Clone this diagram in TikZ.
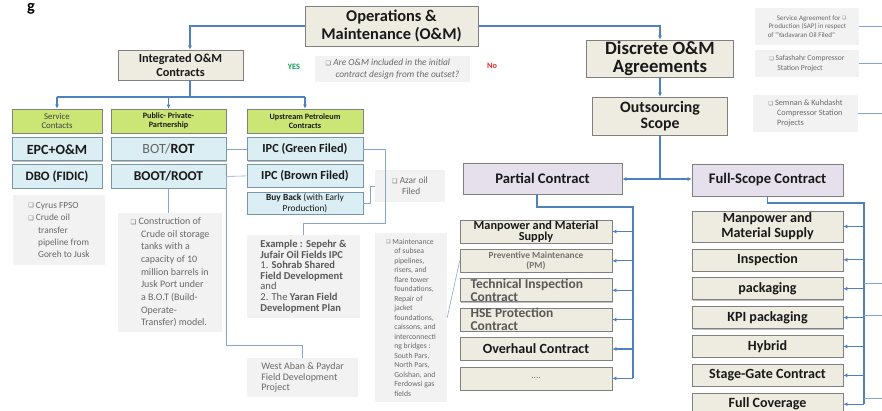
\documentclass[tikz,border=0pt]{standalone}
\usepackage{fontspec}
\usepackage{graphicx}
\setmainfont{Carlito}
\newfontfamily\symfont{DejaVu Sans}
\usetikzlibrary{positioning,shadows,arrows.meta}
\definecolor{linkblue}{RGB}{79,129,189}
\definecolor{paleline}{RGB}{135,165,205}
\definecolor{boxbeige}{RGB}{238,236,225}
\definecolor{boxedge}{RGB}{128,128,128}
\definecolor{limehdr}{RGB}{204,230,118}
\definecolor{palecyan}{RGB}{218,238,243}
\definecolor{cyanedge}{RGB}{120,150,170}
\definecolor{lavender}{RGB}{229,224,236}
\definecolor{notefill}{RGB}{242,242,242}
\definecolor{notetext}{RGB}{105,105,105}
\definecolor{yesgreen}{RGB}{0,160,80}
\definecolor{nored}{RGB}{230,40,40}
\newcommand{\fsz}[2]{\fontsize{#1}{#2}\selectfont}
\newcommand{\sqbul}{\raisebox{0.1ex}{\scalebox{0.65}{\symfont\char"2751}}}
\newcommand{\ind}{\hspace*{1.05em}}
\tikzset{
    boxbase/.style={rectangle, draw=boxedge, line width=0.6pt, align=center, inner sep=0.5pt, text=black!90,
        drop shadow={shadow xshift=0.8pt, shadow yshift=-0.8pt, fill=black, opacity=0.25}},
    mainbox/.style={boxbase, fill=boxbeige, font=\bfseries},
    hdrbox/.style={boxbase, fill=limehdr, minimum height=7.2mm},
    ctbox/.style={boxbase, fill=palecyan, draw=cyanedge, font=\bfseries},
    scopebox/.style={boxbase, fill=lavender, font=\bfseries\fsz{12.5}{13}, minimum height=9.3mm},
    itembox/.style={boxbase, fill=boxbeige, font=\bfseries},
    itemtext/.style={align=left, inner sep=0pt, anchor=west, font=\bfseries\fsz{11.5}{11}, text=black!65},
    note/.style={rectangle, fill=notefill, text=notetext, align=left, inner sep=1pt},
    conn/.style={draw=linkblue, line width=0.9pt},
    trunk/.style={draw=linkblue, line width=1.4pt},
    link/.style={draw=paleline, line width=0.5pt},
    arr/.style={-{Latex[length=3.5pt,width=3.5pt]}}
}

\begin{document}
\begin{tikzpicture}[x=0.3mm, y=-0.3mm]
    \fill[white] (0,0) rectangle (882,410);
    \useasboundingbox (0,0) rectangle (882,410);

    % Title fragment
    \node[font=\bfseries\fsz{14}{14}, anchor=base, inner sep=0pt] (figg) at (31,11) {g};

    % Top level
    \node[mainbox, minimum width=51.9mm, minimum height=12mm, font=\bfseries\fsz{14}{15}] (om) at (391.5,26) {Operations \&\\Maintenance (O\&M)};
    \node[mainbox, minimum width=37.5mm, minimum height=9mm, font=\bfseries\fsz{10.5}{12}] (integ) at (180.5,65) {Integrated O\&M\\Contracts};
    \node[mainbox, minimum width=44.1mm, minimum height=11.1mm, font=\bfseries\fsz{16}{16}] (discrete) at (660,58.5) {Discrete O\&M\\Agreements};
    \node[mainbox, minimum width=40.5mm, minimum height=11.4mm, font=\bfseries\fsz{13.5}{14}] (outs) at (660,116) {Outsourcing\\Scope};

    % Question
    \node[note, minimum width=46.5mm, minimum height=7.8mm, font=\itshape\fsz{8}{9.5}] (quest) at (392.5,69) {\sqbul\ Are O\&M included in the initial\\\ind contract design from the outset?};
    \node[text=yesgreen, font=\bfseries\fsz{7}{8}] (yes) at (294,67) {YES};
    \node[text=nored, font=\bfseries\fsz{7}{8}] (no) at (492,66) {No};

    % Integrated branch
    \node[hdrbox, minimum width=27mm, font=\fsz{7.5}{8.5}, text=black!75] (svc) at (57,121) {Service\\Contacts};
    \node[hdrbox, minimum width=34.5mm, font=\bfseries\fsz{7}{8}] (ppp) at (168.5,121) {Public- Private-\\Partnership};
    \node[hdrbox, minimum width=34.8mm, font=\bfseries\fsz{7}{8}] (ups) at (305,121) {Upstream Petroleum\\Contracts};

    \node[ctbox, minimum width=27mm, minimum height=6.9mm, font=\bfseries\fsz{12}{12}, below=1.2mm of svc] (epc) {EPC+O\&M};
    \node[ctbox, minimum width=27mm, minimum height=7.2mm, font=\bfseries\fsz{11}{11}, below=0.9mm of epc] (dbo) {DBO (FIDIC)};
    \node[ctbox, minimum width=34.5mm, minimum height=6.9mm, font=\bfseries\fsz{12}{12}, below=1.2mm of ppp] (bot) {{\mdseries\color{black!60}BOT/}ROT};
    \node[ctbox, minimum width=34.5mm, minimum height=7.2mm, font=\bfseries\fsz{11.5}{12}, below=0.9mm of bot] (boot) {BOOT/ROOT};
    \node[ctbox, minimum width=34.8mm, minimum height=6.9mm, font=\bfseries\fsz{10.5}{11}, below=1.2mm of ups] (ipcg) {IPC (Green Filed)};
    \node[ctbox, minimum width=34.8mm, minimum height=6.9mm, font=\bfseries\fsz{10.5}{11}, below=0.9mm of ipcg] (ipcb) {IPC (Brown Filed)};
    \node[ctbox, minimum width=34.8mm, minimum height=6.6mm, font=\bfseries\fsz{8}{9}, below=1.2mm of ipcb] (buyb) {Buy Back {\mdseries(with Early}\\{\mdseries Production)}};

    % Notes on the left
    \node[note, minimum width=27.6mm, minimum height=21mm, font=\fsz{8}{10.6}] (cyrus) at (59,230) {\sqbul\ Cyrus FPSO\\\sqbul\ Crude oil\\\ind transfer\\\ind pipeline from\\\ind Goreh to Jusk};
    \node[note, minimum width=31.2mm, minimum height=35.7mm, font=\fsz{8.5}{10.8}] (constr) at (170,272.5) {\sqbul\ Construction of\\\ind Crude oil storage\\\ind tanks with a\\\ind capacity of 10\\\ind million barrels in\\\ind Jusk Port under\\\ind a B.O.T (Build-\\\ind Operate-\\\ind Transfer) model.};
    \node[note, minimum width=21mm, minimum height=9.6mm, font=\fsz{8}{9.5}] (azar) at (410,186) {\sqbul\ Azar oil\\\ind Filed};
    \node[note, minimum width=33.9mm, minimum height=24.9mm, font=\fsz{9}{9}, text=black!65] (example) at (303.5,276.5) {\textbf{Example : Sepehr \&}\\\textbf{Jufair Oil Fields IPC}\\1. \textbf{Sohrab Shared}\\\textbf{Field Development}\\and\\2. The \textbf{Yaran Field}\\\textbf{Development Plan}};
    \node[note, minimum width=33.3mm, minimum height=11.7mm, font=\fsz{8.5}{9}] (westaban) at (302.5,377.5) {West Aban \& Paydar\\Field Development\\Project};
    \node[note, minimum width=21.6mm, minimum height=50.7mm, font=\fsz{6.6}{8.1}] (maint) at (411,317.5) {\sqbul\ Maintenance\\\ind of subsea\\\ind pipelines,\\\ind risers, and\\\ind flare tower\\\ind foundations,\\\ind Repair of\\\ind jacket\\\ind foundations,\\\ind caissons, and\\\ind interconnecti\\\ind ng bridges :\\\ind South Pars,\\\ind North Pars,\\\ind Golshan, and\\\ind Ferdowsi gas\\\ind fields};

    % Notes on the right
    \node[note, minimum width=31.2mm, minimum height=11.1mm, align=right, font=\fsz{6}{7.5}] (sap) at (807,26.5) {Service Agreement for \sqbul\\Production (SAP) in respect\hspace*{0.9em}\\of ``Yadavaran Oil Filed''\hspace*{1.6em}};
    \node[note, minimum width=31.2mm, minimum height=8.1mm, font=\fsz{6.5}{8}] (safa) at (807,63.5) {\sqbul\ Safashahr Compressor\\\ind Station Project};
    \node[note, minimum width=31.5mm, minimum height=11.1mm, font=\fsz{7}{8.5}] (semnan) at (805.5,113.5) {\sqbul\ Semnan \& Kuhdasht\\\ind Compressor Station\\\ind Projects};

    % Discrete branch
    \node[scopebox, minimum width=47.7mm] (partial) at (542.5,178.5) {Partial Contract};
    \node[scopebox, minimum width=45.3mm, minimum height=9.6mm] (fullscope) at (767.5,180) {Full-Scope Contract};

    \node[itembox, minimum width=45.6mm, minimum height=6.9mm, font=\bfseries\fsz{10.5}{9.5}] (mps) at (536,231.5) {Manpower and Material\\Supply};
    \node[itembox, minimum width=45.6mm, minimum height=6.9mm, font=\bfseries\fsz{8}{8.5}, text=black!55, below=1.7mm of mps] (pm) {Preventive Maintenance\\(PM)};
    \node[itembox, minimum width=45.6mm, minimum height=6.9mm, below=1.7mm of pm] (tic) {};
    \node[itemtext] (tictext) at ([xshift=3.2mm]tic.west) {Technical Inspection\\Contract};
    \node[itembox, minimum width=45.6mm, minimum height=6.9mm, below=1.7mm of tic] (hse) {};
    \node[itemtext] (hsetext) at ([xshift=3.2mm]hse.west) {HSE Protection\\Contract};
    \node[itembox, minimum width=45.6mm, minimum height=6.9mm, font=\bfseries\fsz{12}{12}, below=1.7mm of hse] (ovh) {Overhaul Contract};
    \node[itembox, minimum width=45.6mm, minimum height=6.9mm, font=\fsz{8}{8}, text=black!55, below=1.7mm of ovh] (dots) {....};

    \node[itembox, minimum width=45.3mm, minimum height=9.3mm, font=\bfseries\fsz{12}{13}] (mps2) at (767.5,226.5) {Manpower and\\Material Supply};
    \node[itembox, minimum width=45.3mm, minimum height=6.6mm, font=\bfseries\fsz{12}{12}, below=1.85mm of mps2] (insp) {Inspection};
    \node[itembox, minimum width=45.3mm, minimum height=6.6mm, font=\bfseries\fsz{12}{12}, below=1.85mm of insp] (pack) {packaging};
    \node[itembox, minimum width=45.3mm, minimum height=6.6mm, font=\bfseries\fsz{12}{12}, below=1.85mm of pack] (kpi) {KPI packaging};
    \node[itembox, minimum width=45.3mm, minimum height=6.6mm, font=\bfseries\fsz{12}{12}, below=1.85mm of kpi] (hyb) {Hybrid};
    \node[itembox, minimum width=45.3mm, minimum height=6.6mm, font=\bfseries\fsz{12}{12}, below=1.85mm of hyb] (stage) {Stage-Gate Contract};
    \node[itembox, minimum width=45.3mm, minimum height=6.6mm, font=\bfseries\fsz{12}{12}, below=1.85mm of stage] (fcov) {Full Coverage};

    % Main connectors
    \draw[trunk, arr] (om.west) -| ([xshift=2.85mm]integ.north);
    \draw[trunk, arr] (om.east) -| (discrete.north);
    \draw[trunk, arr] (discrete.south) -- (outs.north);
    \coordinate (split) at (660,179);
    \draw[trunk, line width=2pt] (outs.south) -- (split);
    \draw[trunk, line width=2pt, arr] (split) -- (split -| partial.east);
    \draw[trunk, line width=2pt, arr] (split) -- (split -| fullscope.west);

    % Integrated tree
    \coordinate (busL) at (57,97);
    \coordinate (busR) at (305,97);
    \draw[conn] ([xshift=2.85mm]integ.south) -- ([xshift=2.85mm]integ.south |- busL);
    \draw[conn] (busL) -- (busR);
    \draw[conn, arr] (busL) -- (svc.north);
    \draw[conn, arr] (ppp.north |- busL) -- (ppp.north);
    \draw[conn, arr] (busR) -- (ups.north);

    % Links to notes
    \draw[link] (boot.south) -- (boot.south |- constr.north);
    \draw[link] (bot.east) -- (ipcg.west);
    \draw[link] (boot.east) -- (ipcb.west);
    \coordinate (wa) at (226,345);
    \draw[link] (wa |- ipcb.west) -- (wa) -| (westaban.north);
    \coordinate (ex) at (385,223);
    \draw[link] (ipcg.east) -| (ex) -| (example.north);
    \draw[link] (buyb.east) -- ++(7,0) |- (azar.west);
    \draw[link] (maint.east) -- (pm.west);

    % Partial list
    \coordinate (pbus) at (633,207);
    \draw[conn] ([xshift=-1.65mm]partial.south) |- (pbus) -- (pbus |- dots.east);
    \foreach \n in {mps,pm,tic,hse,ovh,dots}
        \draw[conn, arr] (pbus |- \n.east) -- (\n.east);

    % Full-scope list
    \coordinate (fbus) at (864,203);
    \draw[conn] (fullscope.south) |- (fbus) -- (fbus |- fcov.east);
    \foreach \n in {mps2,insp,pack,kpi,hyb,stage,fcov}
        \draw[conn, arr] (fbus |- \n.east) -- (\n.east);

    % Lines running off the right edge
    \coordinate (edgeTop) at (882,0);
    \draw[link] (sap.east) -- (sap.east -| edgeTop);
    \draw[link] (safa.east) -- (safa.east -| edgeTop);
    \draw[link] (semnan.east) -- (semnan.east -| edgeTop);
    \coordinate (edgeA) at (882,283);
    \coordinate (edgeB) at (882,315);
    \coordinate (edgeC) at (882,398);
    \draw[link] (fbus |- edgeA) -- (edgeA);
    \draw[link] (fbus |- edgeB) -- (edgeB);
    \draw[link] (fbus |- edgeC) -- (edgeC);
\end{tikzpicture}
\end{document}
